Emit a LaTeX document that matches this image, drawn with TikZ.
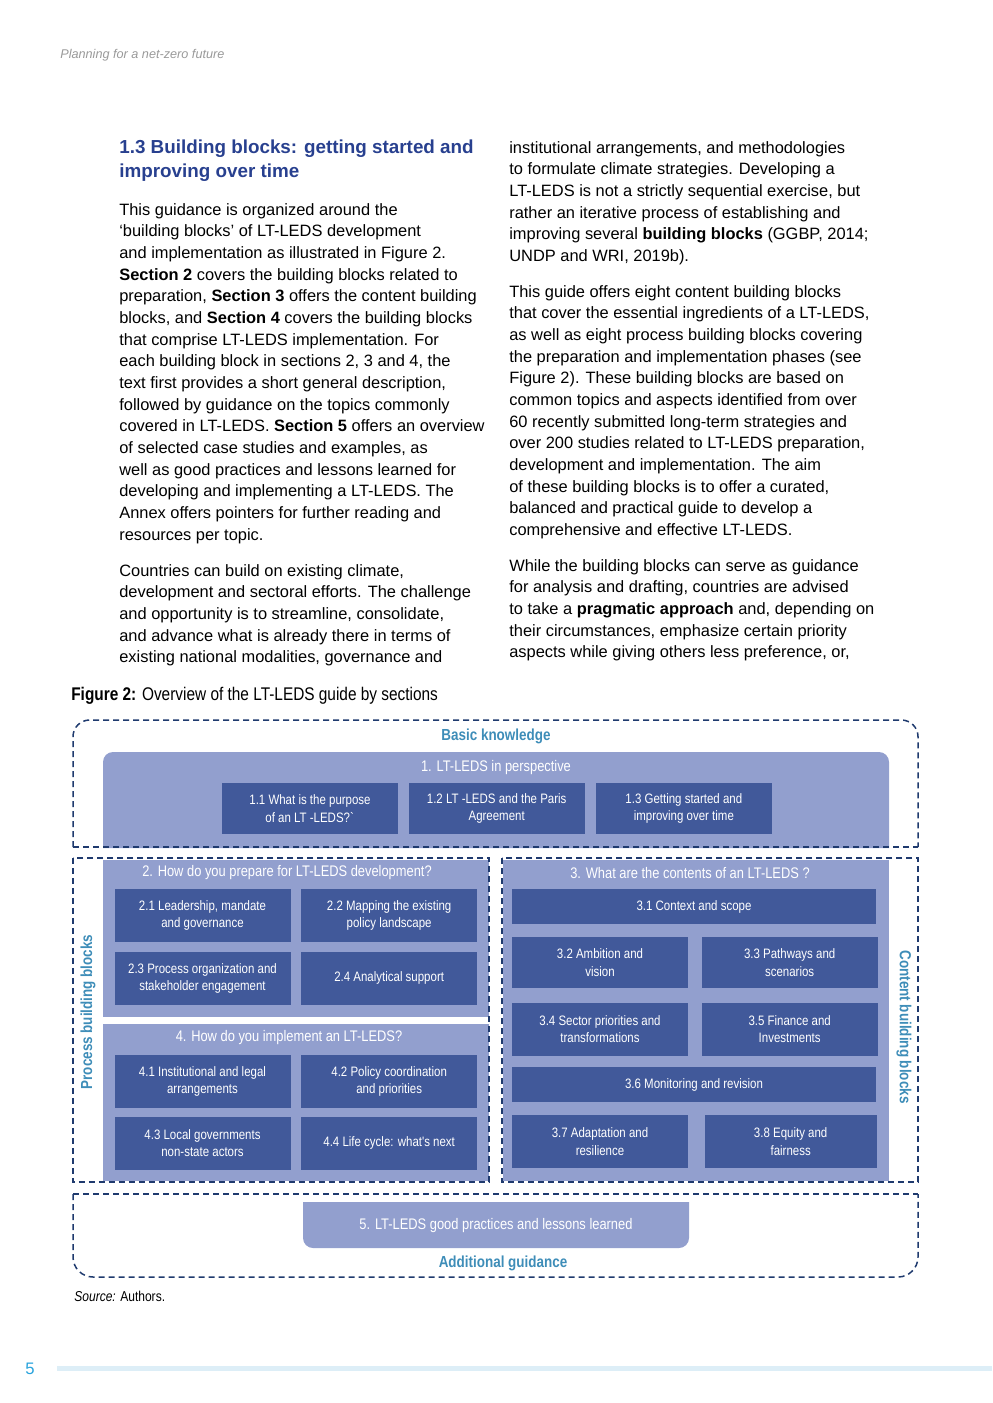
\documentclass[tikz,border=0pt]{standalone}
\usepackage{fontspec}
\setmainfont{Liberation Sans}
\newfontfamily\condfont[FakeStretch=0.84]{Liberation Sans}
\usepackage{tikz}
\usetikzlibrary{positioning}

\definecolor{navy}{HTML}{1F3A6E}
\definecolor{blockdark}{HTML}{41599A}
\definecolor{blocklight}{HTML}{929FCE}
\definecolor{labelteal}{HTML}{3E8DB8}
\definecolor{titleblue}{HTML}{28408F}
\definecolor{pageblue}{HTML}{29A3DC}
\definecolor{rulelight}{HTML}{DDEEF7}

\begin{document}
\begin{tikzpicture}[x=0.6pt,y=-0.6pt,
    dashbox/.style={draw=navy, line width=0.9pt, dash pattern=on 3.6pt off 2.4pt},
    block/.style={fill=blockdark, text=white, align=center, inner sep=1pt,
        font=\condfont\fontsize{8.2}{10.4}\selectfont,
        minimum width=105.6pt, minimum height=31.8pt},
    wideblock/.style={block, minimum width=218.4pt, minimum height=21pt},
    heading/.style={text=white, font=\condfont\fontsize{9.2}{11}\selectfont},
    tag/.style={text=labelteal, font=\condfont\bfseries\fontsize{9.6}{11}\selectfont},
    body/.style={anchor=north west, inner sep=0pt, align=left,
        font=\fontsize{9.85}{13}\selectfont}]

  \useasboundingbox (0,0) rectangle (992,1403);

  % page furniture
  \node[anchor=west, inner sep=0pt, text=gray!80, font=\itshape\fontsize{7.6}{9}\selectfont] (header) at (60,55)
      {Planning for a net-zero future};
  \node[anchor=north west, inner sep=0pt, align=left, text=titleblue,
        font=\bfseries\fontsize{11.3}{14.4}\selectfont] (title) at (119,140)
      {1.3 Building blocks: getting started and\\improving over time};

  \node[body] (left1) at (119,203) {This guidance is organized around the\\
    `building blocks' of LT-LEDS development\\
    and implementation as illustrated in Figure 2.\\
    \textbf{Section 2} covers the building blocks related to\\
    preparation, \textbf{Section 3} offers the content building\\
    blocks, and \textbf{Section 4} covers the building blocks\\
    that comprise LT-LEDS implementation. For\\
    each building block in sections 2, 3 and 4, the\\
    text first provides a short general description,\\
    followed by guidance on the topics commonly\\
    covered in LT-LEDS. \textbf{Section 5} offers an overview\\
    of selected case studies and examples, as\\
    well as good practices and lessons learned for\\
    developing and implementing a LT-LEDS. The\\
    Annex offers pointers for further reading and\\
    resources per topic.};
  \node[body] (left2) at (119,564) {Countries can build on existing climate,\\
    development and sectoral efforts. The challenge\\
    and opportunity is to streamline, consolidate,\\
    and advance what is already there in terms of\\
    existing national modalities, governance and};

  \node[body] (right1) at (509,141) {institutional arrangements, and methodologies\\
    to formulate climate strategies. Developing a\\
    LT-LEDS is not a strictly sequential exercise, but\\
    rather an iterative process of establishing and\\
    improving several \textbf{building blocks} (GGBP, 2014;\\
    UNDP and WRI, 2019b).};
  \node[body] (right2) at (509,285) {This guide offers eight content building blocks\\
    that cover the essential ingredients of a LT-LEDS,\\
    as well as eight process building blocks covering\\
    the preparation and implementation phases (see\\
    Figure 2). These building blocks are based on\\
    common topics and aspects identified from over\\
    60 recently submitted long-term strategies and\\
    over 200 studies related to LT-LEDS preparation,\\
    development and implementation. The aim\\
    of these building blocks is to offer a curated,\\
    balanced and practical guide to develop a\\
    comprehensive and effective LT-LEDS.};
  \node[body] (right3) at (509,559) {While the building blocks can serve as guidance\\
    for analysis and drafting, countries are advised\\
    to take a \textbf{pragmatic approach} and, depending on\\
    their circumstances, emphasize certain priority\\
    aspects while giving others less preference, or,};

  \node[anchor=west, inner sep=0pt, font=\condfont\fontsize{11}{13}\selectfont] (caption) at (71,696)
      {\textbf{Figure 2:} Overview of the LT-LEDS guide by sections};

  % section backgrounds
  \fill[blocklight, rounded corners=6pt] (103,848) -- (103,752) -- (889,752) -- (889,848);
  \fill[blocklight] (103,860) rectangle (489,1017);
  \fill[blocklight] (103,1024) rectangle (489,1181);
  \fill[blocklight] (503,860) rectangle (889,1181);
  \fill[blocklight, rounded corners=6pt] (303,1202) -- (303,1248) -- (689,1248) -- (689,1202);

  % dashed frames
  \draw[dashbox, rounded corners=10pt] (73,847) -- (73,720) -- (918,720) -- (918,847);
  \draw[dashbox] (73,847) -- (918,847);
  \draw[dashbox] (73,858) rectangle (489,1182);
  \draw[dashbox] (502,858) rectangle (918,1182);
  \draw[dashbox, rounded corners=12pt] (73,1194) -- (73,1277) -- (918,1277) -- (918,1194);
  \draw[dashbox] (73,1194) -- (918,1194);

  \node[tag] (basic) at (496,736) {Basic knowledge};
  \node[tag] (additional) at (503,1263) {Additional guidance};
  \node[tag, rotate=90] (process) at (88,1012) {Process building blocks};
  \node[tag, rotate=-90] (content) at (904,1027) {Content building blocks};

  % 1. perspective
  \node[heading] (h1) at (496,768) {1. LT-LEDS in perspective};
  \node[block, minimum height=30.6pt] (b11) at (310,808.5)
      {1.1 What is the purpose\\of an LT -LEDS?\textasciigrave};
  \node[block, minimum height=30.6pt, right=6pt of b11] (b12) {1.2 LT -LEDS and the Paris\\Agreement};
  \node[block, minimum height=30.6pt, right=6.3pt of b12] (b13) {1.3 Getting started and\\improving over time};

  % 2. preparation
  \node[heading] (h2) at (287,873) {2. How do you prepare for LT-LEDS development?};
  \node[block] (b21) at (202.5,915.5) {2.1 Leadership, mandate\\and governance};
  \node[block, right=6pt of b21] (b22) {2.2 Mapping the existing\\policy landscape};
  \node[block, below=5.4pt of b21] (b23) {2.3 Process organization and\\stakeholder engagement};
  \node[block, right=6pt of b23] (b24) {2.4 Analytical support};

  % 4. implementation
  \node[heading] (h4) at (289,1038) {4. How do you implement an LT-LEDS?};
  \node[block] (b41) at (202.5,1081.5) {4.1 Institutional and legal\\arrangements};
  \node[block, right=6pt of b41] (b42) {4.2 Policy coordination\\and priorities};
  \node[block, below=4.8pt of b41] (b43) {4.3 Local governments\\non-state actors};
  \node[block, right=6pt of b43] (b44) {4.4 Life cycle: what's next};

  % 3. contents
  \node[heading] (h3) at (690,873) {3. What are the contents of an LT-LEDS ?};
  \node[wideblock] (b31) at (694,906.5) {3.1 Context and scope};
  \node[block, minimum height=30.6pt] (b32) at (600,962.5) {3.2 Ambition and\\vision};
  \node[block, minimum height=30.6pt, right=7.8pt of b32] (b33) {3.3 Pathways and\\scenarios};
  \node[block, below=8.4pt of b32] (b34) {3.4 Sector priorities and\\transformations};
  \node[block, right=7.8pt of b34] (b35) {3.5 Finance and\\Investments};
  \node[wideblock] (b36) at (694,1084.5) {3.6 Monitoring and revision};
  \node[block] (b37) at (600,1141.5) {3.7 Adaptation and\\resilience};
  \node[block, minimum width=103.2pt, right=9.6pt of b37] (b38) {3.8 Equity and\\fairness};

  % 5. practices
  \node[heading] (h5) at (496,1226) {5. LT-LEDS good practices and lessons learned};

  \node[anchor=west, inner sep=0pt, font=\condfont\fontsize{8.6}{10}\selectfont] (source) at (74,1296)
      {\textit{Source:} Authors.};
  \fill[rulelight] (57,1366) rectangle (992,1371);
  \node[text=pageblue, font=\fontsize{10}{12}\selectfont] (pagenum) at (30,1369) {5};
\end{tikzpicture}
\end{document}
